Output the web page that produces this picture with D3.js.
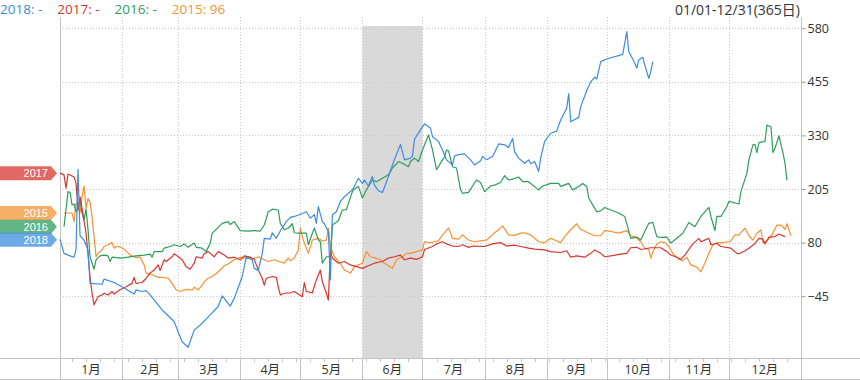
<!DOCTYPE html>
<html>
<head>
<meta charset="utf-8">
<script src="https://cdn.jsdelivr.net/npm/d3@7/dist/d3.min.js"></script>
<style>
  body { margin: 0; background: #fff; }
  svg { display: block; font-family: "Open Sans", "Noto Sans CJK SC", sans-serif; }
</style>
</head>
<body>
<svg id="chart" width="860" height="380"></svg>
<script>
// Series (same calendar axis, one line per year)
const seriesNames = ['2018', '2017', '2016', '2015'];
const seriesColors = ['#3d8ce0', '#d8352f', '#2e9c5c', '#f39230'];
const legendValues = ['-', '-', '-', '96'];

const yTicks = [-45, 80, 205, 330, 455, 580];
const monthLabels = ['1月', '2月', '3月', '4月', '5月', '6月', '7月', '8月', '9月', '10月', '11月', '12月'];
const rangeLabel = '01/01-12/31(365日)';
const highlightMonth = 5; // 6月

// [days since 01/01, value]
const data2018 = [[0,88],[2,55],[5,49],[7,46],[8,63],[9,251],[10,96],[12,86],[14,63],[15,-15],[21,-17],[22,-5],[27,-13],[31,-23],[37,-40],[38,-30],[41,-34],[43,-32],[45,-42],[51,-77],[57,-104],[58,-116],[61,-151],[64,-164],[67,-124],[71,-108],[74,-93],[79,-69],[81,-44],[82,-50],[85,-68],[87,-50],[91,1],[93,46],[96,40],[97,20],[99,15],[101,55],[102,90],[105,88],[106,103],[108,90],[110,107],[113,129],[115,139],[117,141],[121,148],[123,152],[125,137],[127,145],[128,125],[129,164],[131,129],[132,124],[134,106],[135,-7],[136,145],[138,152],[140,176],[142,187],[144,195],[146,203],[147,212],[149,230],[151,218],[152,226],[154,212],[156,234],[157,214],[159,201],[161,197],[162,209],[164,234],[167,274],[170,309],[172,273],[175,277],[176,282],[177,321],[180,343],[182,357],[185,347],[186,327],[189,316],[191,296],[193,273],[196,261],[197,282],[199,285],[202,287],[205,273],[207,261],[210,271],[211,281],[213,273],[216,281],[217,290],[219,310],[222,308],[224,302],[226,323],[227,292],[229,277],[232,265],[234,273],[235,264],[237,269],[239,246],[240,277],[242,316],[245,335],[248,340],[250,366],[253,393],[254,427],[255,362],[259,372],[260,397],[263,434],[265,455],[267,466],[268,461],[270,502],[273,508],[281,519],[283,572],[284,525],[286,508],[288,487],[289,506],[291,512],[292,494],[294,463],[295,479],[296,502]];
const data2017 = [[0,242],[2,238],[3,207],[4,240],[7,233],[8,219],[9,156],[10,187],[11,160],[13,102],[15,1],[16,-38],[17,-65],[19,-46],[21,-42],[22,-38],[24,-42],[26,-34],[27,-40],[30,-30],[33,-23],[36,-15],[37,-1],[38,-15],[41,-13],[43,-3],[45,9],[47,16],[49,28],[50,15],[52,40],[53,36],[56,47],[57,54],[61,40],[63,24],[65,18],[67,32],[68,47],[71,44],[72,54],[74,59],[77,47],[79,59],[82,51],[84,44],[87,46],[90,40],[92,49],[95,46],[97,41],[99,16],[101,-3],[102,-19],[103,-3],[106,1],[108,-1],[109,-23],[110,-42],[112,-38],[115,-37],[117,-34],[121,-46],[122,-13],[123,-34],[126,-37],[128,-7],[130,16],[131,-11],[133,-38],[134,-54],[135,59],[136,44],[139,32],[142,36],[145,28],[148,24],[151,20],[154,26],[157,32],[161,36],[164,44],[167,47],[170,51],[172,40],[175,44],[178,41],[181,47],[182,64],[186,71],[188,77],[191,82],[193,77],[196,72],[199,71],[201,75],[204,69],[206,72],[212,71],[216,77],[220,80],[223,72],[227,74],[230,71],[234,67],[237,65],[242,63],[245,59],[250,57],[253,61],[255,46],[258,49],[262,46],[265,55],[267,63],[270,55],[272,47],[275,49],[280,53],[283,55],[285,68],[288,69],[290,64],[295,68],[300,68],[303,59],[305,51],[308,46],[310,41],[312,51],[314,64],[316,77],[319,90],[320,82],[324,90],[325,75],[328,78],[330,71],[335,67],[338,55],[339,54],[342,61],[344,67],[347,78],[349,90],[351,88],[352,77],[354,93],[357,94],[359,100],[362,94]];
const data2016 = [[2,117],[4,199],[5,197],[6,168],[7,170],[8,152],[9,160],[10,180],[11,149],[12,133],[13,158],[14,110],[15,47],[17,18],[18,40],[20,49],[22,51],[24,49],[25,36],[26,46],[30,44],[34,46],[38,49],[42,51],[45,53],[46,46],[47,59],[51,59],[52,67],[55,71],[57,75],[60,71],[62,77],[64,69],[67,79],[68,69],[71,67],[73,59],[75,79],[76,102],[78,111],[81,125],[84,129],[85,122],[87,129],[90,108],[94,107],[97,108],[100,107],[102,121],[104,152],[106,158],[109,156],[110,125],[112,110],[114,114],[116,124],[117,103],[119,102],[123,102],[124,75],[126,102],[127,114],[129,86],[130,82],[131,32],[133,47],[135,47],[136,121],[139,131],[141,156],[143,157],[146,199],[147,205],[149,211],[151,184],[153,203],[156,226],[158,222],[161,230],[164,238],[166,254],[169,269],[171,265],[174,257],[175,269],[177,277],[179,269],[181,296],[184,331],[186,296],[188,250],[191,273],[192,280],[193,296],[194,294],[196,257],[198,254],[200,203],[201,195],[204,197],[206,212],[208,226],[210,220],[212,199],[215,212],[217,214],[220,220],[222,236],[224,226],[226,228],[229,233],[231,222],[234,222],[235,218],[239,203],[241,212],[245,218],[249,218],[250,211],[254,218],[256,203],[259,211],[261,218],[263,211],[264,184],[266,168],[268,152],[270,154],[272,162],[275,156],[279,149],[282,141],[285,90],[288,93],[290,86],[292,106],[294,125],[296,127],[298,94],[300,92],[303,93],[305,79],[308,90],[311,102],[314,127],[317,117],[320,141],[324,162],[325,141],[327,108],[328,141],[330,141],[333,164],[334,176],[339,170],[340,199],[343,242],[344,273],[346,308],[347,309],[348,290],[349,313],[352,316],[353,354],[354,352],[355,350],[356,290],[357,300],[359,329],[361,289],[362,265],[363,225]];
const data2015 = [[2,149],[4,149],[6,149],[7,129],[8,172],[9,165],[10,149],[11,187],[12,212],[13,160],[14,183],[15,175],[16,141],[17,94],[18,47],[19,55],[21,63],[22,71],[24,75],[26,80],[27,67],[28,71],[30,70],[32,65],[35,51],[38,45],[40,47],[42,28],[43,9],[46,5],[49,-1],[51,-1],[54,-3],[56,-15],[58,-30],[60,-34],[62,-30],[64,-29],[66,-31],[67,-24],[69,-30],[71,-19],[72,-11],[74,-3],[76,1],[78,8],[80,16],[82,26],[84,30],[87,40],[90,46],[92,44],[94,47],[96,42],[99,47],[102,40],[104,36],[107,40],[112,32],[114,44],[115,38],[117,44],[119,63],[120,114],[121,94],[122,79],[124,55],[126,86],[129,90],[131,84],[133,86],[134,114],[135,71],[137,47],[140,32],[142,16],[145,9],[147,24],[151,32],[153,59],[155,47],[157,45],[160,40],[162,32],[166,20],[168,40],[171,47],[173,55],[175,55],[178,59],[181,63],[182,82],[185,80],[187,82],[189,84],[191,98],[194,114],[196,90],[199,88],[201,98],[204,86],[207,82],[210,84],[213,86],[216,98],[217,103],[219,110],[221,119],[224,98],[227,97],[230,102],[232,103],[235,98],[239,82],[242,80],[245,90],[247,86],[250,80],[252,94],[255,110],[258,124],[260,111],[264,102],[267,96],[270,96],[272,108],[275,106],[279,102],[283,108],[285,96],[287,94],[290,82],[292,67],[294,64],[295,44],[296,59],[298,77],[300,82],[302,80],[304,71],[306,55],[309,41],[311,38],[313,46],[315,28],[318,23],[320,12],[322,32],[324,55],[326,75],[328,80],[331,80],[334,82],[335,84],[337,98],[339,98],[342,114],[344,96],[346,86],[348,102],[350,110],[351,80],[353,84],[355,94],[358,121],[360,121],[362,111],[363,124],[365,96]];

const seriesData = [data2018, data2017, data2016, data2015];

// Layout
const W = 860, H = 380;
const plot = { left: 60, right: 801, top: 17, bottom: 358 };
const gridColor = '#c8c8c8';
const lineColor = '#c4c4c4';

const svg = d3.select('#chart');

const yearStart = new Date(2018, 0, 1);
const dayToDate = d => d3.timeDay.offset(yearStart, d);

const x = d3.scaleTime()
  .domain([yearStart, dayToDate(370)])
  .range([plot.left, plot.right]);

const y = d3.scaleLinear()
  .domain([-189, 606])
  .range([plot.bottom, plot.top]);

const monthStarts = d3.timeMonth.range(yearStart, new Date(2019, 0, 1));

// Highlighted month band
const bandStart = monthStarts[highlightMonth];
const bandEnd = d3.timeMonth.offset(bandStart, 1);
svg.append('rect')
  .attr('x', x(bandStart))
  .attr('y', 26)
  .attr('width', x(bandEnd) - x(bandStart))
  .attr('height', plot.bottom - 26)
  .attr('fill', '#d9d9d9');

// Grid
const grid = svg.append('g');
grid.selectAll('line.h')
  .data(yTicks)
  .enter().append('line')
  .attr('class', 'h')
  .attr('x1', plot.left).attr('x2', plot.right)
  .attr('y1', d => Math.round(y(d)) + 0.5).attr('y2', d => Math.round(y(d)) + 0.5)
  .attr('stroke', gridColor)
  .attr('stroke-dasharray', '1,2');

grid.selectAll('line.v')
  .data(monthStarts.slice(1))
  .enter().append('line')
  .attr('class', 'v')
  .attr('x1', d => Math.round(x(d)) + 0.5).attr('x2', d => Math.round(x(d)) + 0.5)
  .attr('y1', plot.top).attr('y2', plot.bottom)
  .attr('stroke', gridColor)
  .attr('stroke-dasharray', '1,2');

// Frame lines
svg.append('line')
  .attr('x1', plot.left + 0.5).attr('x2', plot.left + 0.5)
  .attr('y1', plot.top).attr('y2', H)
  .attr('stroke', lineColor);
svg.append('line')
  .attr('x1', plot.right + 0.5).attr('x2', plot.right + 0.5)
  .attr('y1', plot.top).attr('y2', H)
  .attr('stroke', lineColor);
svg.append('line')
  .attr('x1', 0).attr('x2', W)
  .attr('y1', plot.bottom + 0.5).attr('y2', plot.bottom + 0.5)
  .attr('stroke', lineColor);
svg.append('line')
  .attr('x1', 0).attr('x2', W)
  .attr('y1', H - 0.5).attr('y2', H - 0.5)
  .attr('stroke', lineColor);

// Month separators and labels under the axis
const bottomAxis = svg.append('g');
bottomAxis.selectAll('line.sep')
  .data(monthStarts.slice(1))
  .enter().append('line')
  .attr('class', 'sep')
  .attr('x1', d => Math.round(x(d)) + 0.5).attr('x2', d => Math.round(x(d)) + 0.5)
  .attr('y1', plot.bottom).attr('y2', H)
  .attr('stroke', lineColor);

bottomAxis.selectAll('line.wk')
  .data(d3.timeWeek.range(yearStart, dayToDate(370)))
  .enter().append('line')
  .attr('class', 'wk')
  .attr('x1', d => Math.round(x(d)) + 0.5).attr('x2', d => Math.round(x(d)) + 0.5)
  .attr('y1', plot.bottom).attr('y2', plot.bottom + 4)
  .attr('stroke', lineColor);

bottomAxis.selectAll('text')
  .data(monthStarts)
  .enter().append('text')
  .attr('x', (d, i) => {
    const end = i < 11 ? x(monthStarts[i + 1]) : plot.right;
    return (x(d) + end) / 2;
  })
  .attr('y', 374)
  .attr('text-anchor', 'middle')
  .attr('font-size', 12.5)
  .attr('fill', '#333')
  .text((d, i) => monthLabels[i]);

// Right value axis
const yAxis = svg.append('g')
  .attr('transform', `translate(${plot.right + 0.5},0)`)
  .call(d3.axisRight(y).tickValues(yTicks).tickSize(4).tickPadding(2));
yAxis.select('.domain').remove();
yAxis.selectAll('.tick line').attr('stroke', '#999');
yAxis.selectAll('.tick text')
  .attr('fill', '#333')
  .attr('font-size', 12.5)
  .attr('font-family', '"Open Sans", sans-serif');

// Lines
const line = d3.line()
  .x(d => x(dayToDate(d[0])))
  .y(d => y(d[1]));

const drawOrder = [3, 2, 1, 0];
svg.append('g')
  .selectAll('path')
  .data(drawOrder)
  .enter().append('path')
  .attr('d', i => line(seriesData[i]))
  .attr('fill', 'none')
  .attr('stroke', i => seriesColors[i])
  .attr('stroke-width', 1.2)
  .attr('stroke-linejoin', 'round');

// Start-value tags on the left, pushed apart so they don't collide
const tagGap = 13;
const tagPos = seriesNames.map((n, i) => ({ i, y: y(seriesData[i][0][1]) }))
  .sort((a, b) => a.y - b.y);
tagPos.forEach((t, k) => {
  if (k > 0 && t.y - tagPos[k - 1].y < tagGap) t.y = tagPos[k - 1].y + tagGap;
});
const tagOrder = [1, 3, 2, 0];
const tagY = {};
tagPos.forEach(t => { tagY[t.i] = t.y; });

const tags = svg.append('g')
  .selectAll('g')
  .data(tagOrder)
  .enter().append('g')
  .attr('transform', i => `translate(0,${tagY[i]})`);
tags.append('path')
  .attr('d', 'M0,-7H51L57,0L51,7H0Z')
  .attr('fill', i => seriesColors[i])
  .attr('fill-opacity', 0.75);
tags.append('text')
  .attr('x', 48)
  .attr('y', 0)
  .attr('dy', '0.35em')
  .attr('text-anchor', 'end')
  .attr('font-family', '"Liberation Sans", sans-serif')
  .attr('font-size', 11)
  .attr('fill', '#fff')
  .text(i => seriesNames[i]);

// Legend
const legend = svg.append('g');
let lx = 0;
seriesNames.forEach((name, i) => {
  const t = legend.append('text')
    .attr('x', lx)
    .attr('y', 14)
    .attr('font-size', 13.5)
    .attr('fill', seriesColors[i])
    .text(`${name}: ${legendValues[i]}`);
  lx += t.node().getComputedTextLength() + 15;
});

svg.append('text')
  .attr('x', plot.right - 1)
  .attr('y', 15)
  .attr('text-anchor', 'end')
  .attr('font-size', 14)
  .attr('fill', '#333')
  .text(rangeLabel);
</script>
</body>
</html>
